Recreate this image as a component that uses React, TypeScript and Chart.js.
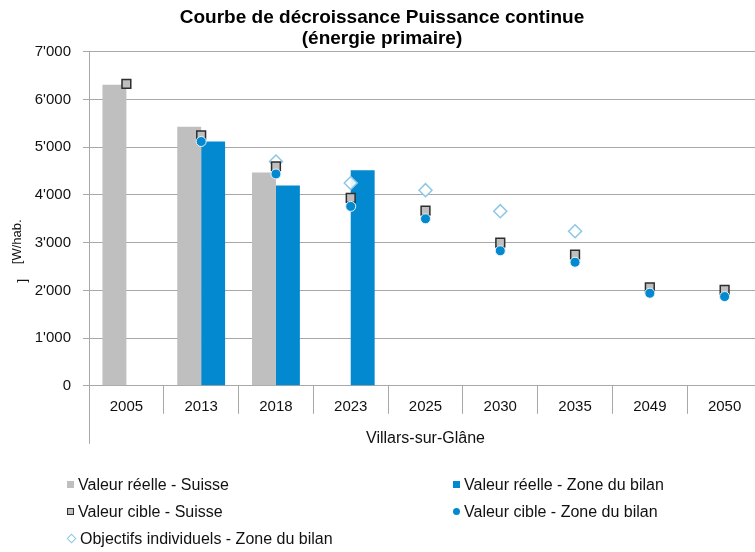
import React, { useEffect, useRef } from 'react';
import { Chart, registerables } from 'chart.js';

Chart.register(...registerables);

const categories = ['2005', '2013', '2018', '2023', '2025', '2030', '2035', '2049', '2050'];
const reelleSuisse = [6310, 5430, 4470, null, null, null, null, null, null];
const reelleZone = [null, 5120, 4200, 4520, null, null, null, null, null];
const cibleSuisse = [6330, 5250, 4600, 3940, 3670, 3000, 2750, 2060, 2010];
const cibleZone = [null, 5120, 4440, 3760, 3500, 2830, 2590, 1940, 1870];
const objectifs = [null, null, 4700, 4250, 4100, 3660, 3240, null, null];
const yTickValues = [0, 1000, 2000, 3000, 4000, 5000, 6000, 7000];

const titleLines = ['Courbe de décroissance Puissance continue', '(énergie primaire)'];
const yTitle = ['[W/hab.', ']'];
const xTitle = 'Villars-sur-Glâne';
const labels = {
  reelleSuisse: 'Valeur réelle - Suisse',
  reelleZone: 'Valeur réelle - Zone du bilan',
  cibleSuisse: 'Valeur cible - Suisse',
  cibleZone: 'Valeur cible - Zone du bilan',
  objectifs: 'Objectifs individuels - Zone du bilan',
};

const GREY = '#BFBFBF';
const BLUE = '#0389CF';
const DARK = '#2e2e2e';
const LIGHTBLUE = '#8EC6E6';
const GRID = '#A8A8A8';
const TEXT = '#111';
const FONT = "'Liberation Sans', Arial, sans-serif";

const fmt = (v: number) => String(v).replace(/\B(?=(\d{3})+(?!\d))/g, "'");

const decorPlugin = {
  id: 'decor',
  afterDraw(chart: any) {
    const { ctx, chartArea } = chart;
    ctx.save();
    // extended left axis line below the category labels
    ctx.strokeStyle = GRID;
    ctx.lineWidth = 1;
    ctx.beginPath();
    const x = Math.round(chartArea.left) + 0.5;
    ctx.moveTo(x, chartArea.bottom);
    ctx.lineTo(x, chartArea.bottom + 58);
    ctx.stroke();
    // rotated, wrapped y-axis title
    const mid = (chartArea.top + chartArea.bottom) / 2;
    ctx.fillStyle = TEXT;
    ctx.font = `13px ${FONT}`;
    ctx.textAlign = 'center';
    ctx.textBaseline = 'middle';
    ctx.translate(chartArea.left - 72, mid + 23);
    ctx.rotate(-Math.PI / 2);
    ctx.fillText(yTitle[0], 0, 0);
    ctx.fillText(yTitle[1], -39, 5);
    ctx.restore();
  },
};

type LegendItem = { label: string; marker: React.CSSProperties };

const legendLeft: LegendItem[] = [
  { label: labels.reelleSuisse, marker: { width: 7, height: 7, background: GREY } },
  { label: labels.cibleSuisse, marker: { width: 5, height: 5, background: GREY, border: `1px solid ${DARK}` } },
  { label: labels.objectifs, marker: { width: 5, height: 5, background: '#fff', border: `1px solid ${LIGHTBLUE}`, transform: 'rotate(45deg)', marginLeft: 1, marginRight: 5 } },
];
const legendRight: LegendItem[] = [
  { label: labels.reelleZone, marker: { width: 7, height: 7, background: BLUE } },
  { label: labels.cibleZone, marker: { width: 7, height: 7, background: BLUE, borderRadius: '50%' } },
];

function LegendCol({ items, left }: { items: LegendItem[]; left: number }) {
  return (
    <div style={{ position: 'absolute', left, top: 471 }}>
      {items.map((it) => (
        <div key={it.label} style={{ display: 'flex', alignItems: 'center', height: 27, fontFamily: FONT, fontSize: 16, color: TEXT, whiteSpace: 'nowrap', lineHeight: '18px' }}>
          <span style={{ display: 'inline-block', boxSizing: 'content-box', marginRight: 4, flex: 'none', ...it.marker }} />
          <span>{it.label}</span>
        </div>
      ))}
    </div>
  );
}

export default function App() {
  const ref = useRef<HTMLCanvasElement | null>(null);

  useEffect(() => {
    if (!ref.current) return;
    const chart = new Chart(ref.current, {
      type: 'bar',
      data: {
        labels: categories,
        datasets: [
          { type: 'line', label: labels.cibleZone, data: cibleZone, showLine: false, pointStyle: 'circle', pointRadius: 5, pointBackgroundColor: BLUE, pointBorderColor: '#e8f4fb', pointBorderWidth: 1, order: 0 } as any,
          { type: 'line', label: labels.cibleSuisse, data: cibleSuisse, showLine: false, pointStyle: 'rect', pointRadius: 6.2, pointBackgroundColor: GREY, pointBorderColor: DARK, pointBorderWidth: 1.5, order: 1 } as any,
          { type: 'line', label: labels.objectifs, data: objectifs, showLine: false, pointStyle: 'rectRot', pointRadius: 6.5, pointBackgroundColor: 'rgba(255,255,255,0.9)', pointBorderColor: LIGHTBLUE, pointBorderWidth: 1.5, order: 2 } as any,
          { type: 'bar', label: labels.reelleSuisse, data: reelleSuisse, backgroundColor: GREY, order: 3, categoryPercentage: 0.64, barPercentage: 1.0 },
          { type: 'bar', label: labels.reelleZone, data: reelleZone, backgroundColor: BLUE, order: 4, categoryPercentage: 0.64, barPercentage: 1.0 },
        ],
      },
      options: {
        responsive: false,
        animation: false,
        devicePixelRatio: 1,
        layout: { padding: { left: 0, right: 6, top: 0, bottom: 104 } },
        plugins: {
          legend: { display: false },
          tooltip: { enabled: false },
          title: {
            display: true,
            text: titleLines,
            color: '#000',
            font: { family: FONT, size: 19, weight: 'bold', lineHeight: 1.1 },
            padding: { top: 7, bottom: 3 },
          },
        },
        scales: {
          x: {
            offset: true,
            grid: { offset: true, drawOnChartArea: false, drawTicks: true, tickLength: 28, color: GRID },
            border: { display: true, color: GRID },
            ticks: { color: TEXT, font: { family: FONT, size: 15 }, padding: -16, maxRotation: 0, autoSkip: false },
            title: { display: true, text: xTitle, color: TEXT, font: { family: FONT, size: 16 }, padding: { top: 29, bottom: 0 } },
          },
          y: {
            min: 0,
            max: 7000,
            afterBuildTicks: (scale: any) => { scale.ticks = yTickValues.map((v) => ({ value: v })); },
            afterFit: (scale: any) => { scale.width = 89; },
            grid: { color: GRID, tickLength: 6 },
            border: { display: true, color: GRID },
            ticks: { color: TEXT, font: { family: FONT, size: 15 }, padding: 12, callback: (v: any) => fmt(Number(v)) },
            title: { display: false },
          },
        },
      },
      plugins: [decorPlugin],
    });
    return () => chart.destroy();
  }, []);

  return (
    <div style={{ position: 'absolute', left: 0, top: 0, width: 755, height: 552, overflow: 'hidden', background: '#fff' }}>
      <canvas ref={ref} width={770} height={552} style={{ position: 'absolute', left: 0, top: 0 }} />
      <LegendCol items={legendLeft} left={67} />
      <LegendCol items={legendRight} left={453} />
    </div>
  );
}
